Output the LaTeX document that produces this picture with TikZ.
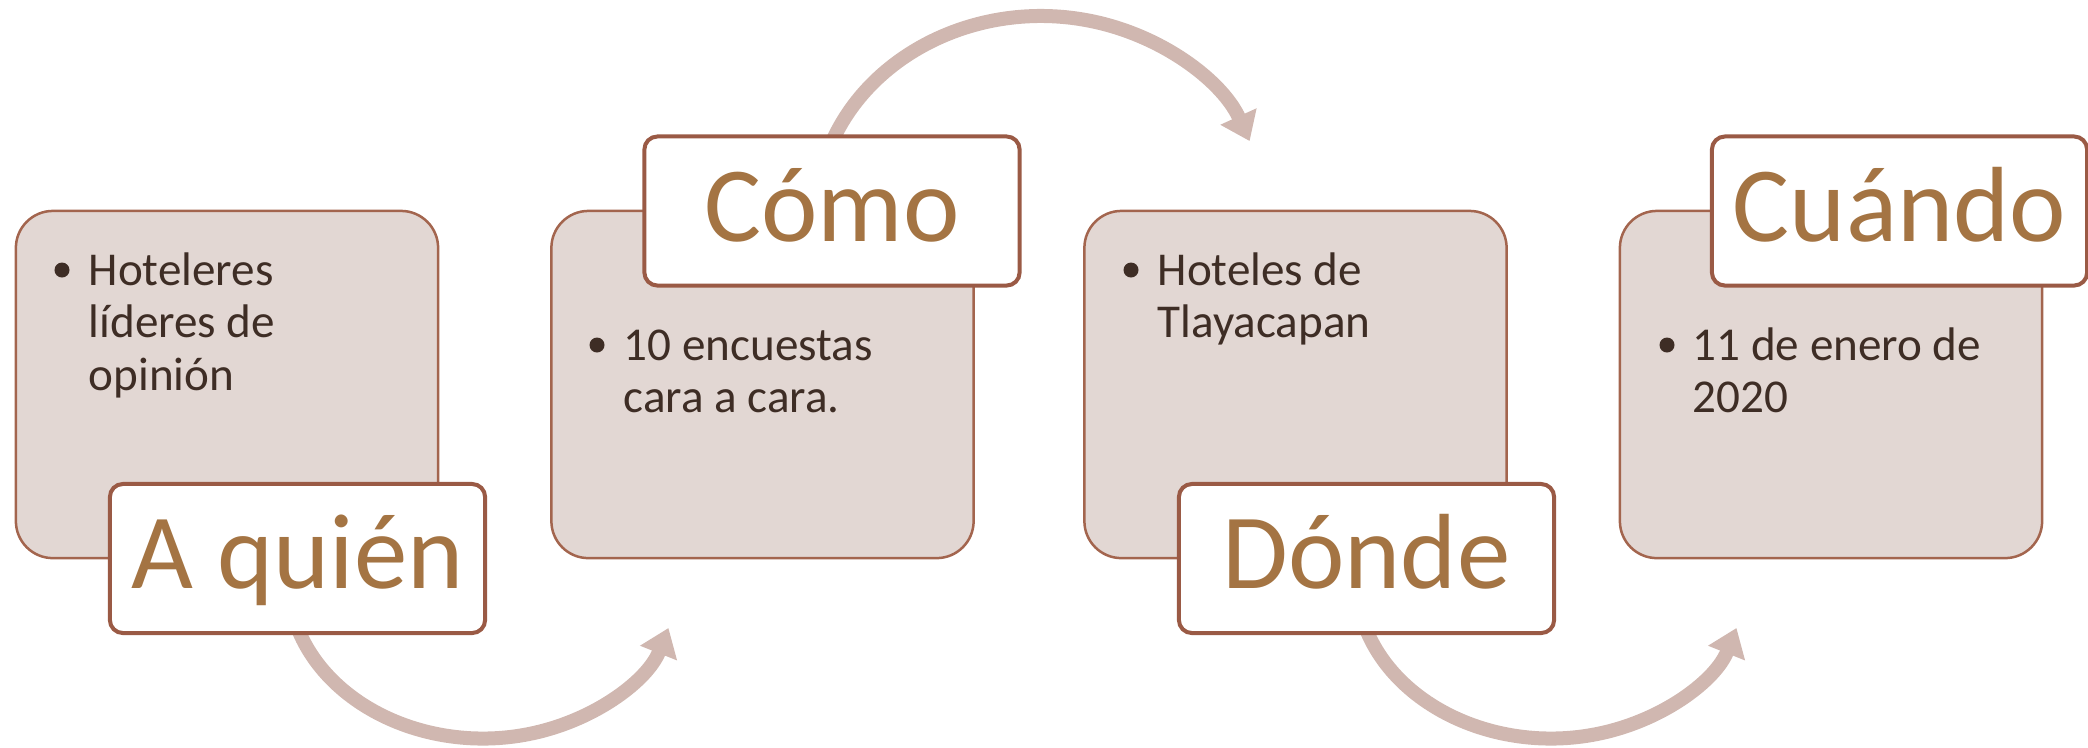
\documentclass[tikz,border=0pt]{standalone}
\usepackage{fontspec}
\setmainfont{Carlito}
\usetikzlibrary{arrows.meta}
\definecolor{boxfill}{HTML}{E2D7D3}
\definecolor{boxline}{HTML}{A3654E}
\definecolor{labline}{HTML}{9A5A45}
\definecolor{labtext}{HTML}{A47443}
\definecolor{bodytext}{HTML}{3E2D25}
\definecolor{arccol}{HTML}{D0B7B0}
\newcommand{\bodylines}[1]{\begin{tabular}[t]{@{}l@{}}#1\end{tabular}}
\begin{document}
\begin{tikzpicture}[x=0.01cm,y=-0.01cm,
  bigbox/.style={draw=boxline, line width=0.025cm, fill=boxfill, rounded corners=0.37cm,
    minimum width=4.22cm, minimum height=3.47cm, inner sep=0pt, outer sep=0pt},
  labbox/.style={draw=labline, line width=0.04cm, fill=white, rounded corners=0.13cm,
    minimum width=3.75cm, minimum height=1.49cm, inner sep=0pt, outer sep=0pt,
    text=labtext, font=\fontsize{30.4}{36}\selectfont, text height=0.75cm, text depth=0.15cm},
  body/.style={text=bodytext, font=\fontsize{13.4}{15}\selectfont,
    anchor=base west, inner sep=0pt},
  dot/.style={circle, fill=bodytext, minimum size=0.15cm, inner sep=0pt},
  flow/.style={draw=arccol, line width=0.14cm, -{Triangle[length=0.27cm 0, width=0.38cm 0]}}
]
\useasboundingbox (0,0) rectangle (2088,747);

% arc centres
\coordinate (c1) at (483,578.5);
\coordinate (c2) at (1041,216);
\coordinate (c3) at (1551,578.5);

% connectors (behind boxes)
\draw[flow] (c1) ++(165:195 and 160) arc[start angle=165, end angle=18, x radius=195, y radius=160];
\draw[flow] (c2) ++(-165:225 and 200) arc[start angle=-165, end angle=-22, x radius=225, y radius=200];
\draw[flow] (c3) ++(165:195 and 160) arc[start angle=165, end angle=18, x radius=195, y radius=160];

% big boxes
\node[bigbox] (B1) at (227,384.5) {};
\node[bigbox] (B2) at (762.5,384.5) {};
\node[bigbox] (B3) at (1295.5,384.5) {};
\node[bigbox] (B4) at (1831,384.5) {};

% body texts
\node[dot] (d1) at (62,270) {};
\node[body] (t1) at (88,285) {\bodylines{Hoteleres\\líderes de\\opinión}};
\node[dot] (d2) at (597,345) {};
\node[body] (t2) at (623,360) {\bodylines{10 encuestas\\cara a cara.}};
\node[dot] (d3) at (1131,270) {};
\node[body] (t3) at (1157,285) {\bodylines{Hoteles de\\Tlayacapan}};
\node[dot] (d4) at (1667,345) {};
\node[body] (t4) at (1692,360) {\bodylines{11 de enero de\\2020}};

% label boxes
\node[labbox] (L1) at (297.5,558.5) {A quién};
\node[labbox] (L2) at (832,211) {Cómo};
\node[labbox] (L3) at (1366.5,558.5) {Dónde};
\node[labbox] (L4) at (1899.5,211) {Cuándo};
\end{tikzpicture}
\end{document}
